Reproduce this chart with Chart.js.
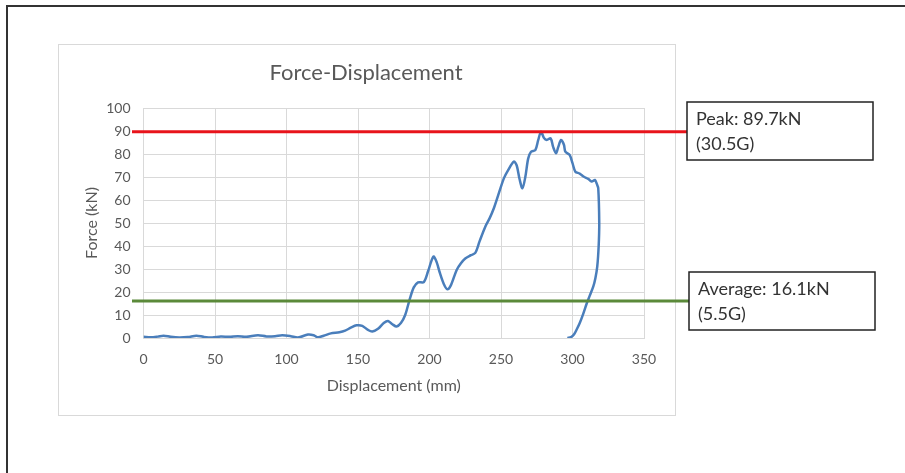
<!DOCTYPE html>
<html>
<head>
<meta charset="utf-8">
<script src="https://cdn.jsdelivr.net/npm/chart.js@4.4.1/dist/chart.umd.min.js"></script>
<style>
  body { margin: 0; background: #fff; }
  canvas { display: block; }
</style>
</head>
<body>
<canvas id="chart" width="905" height="473"></canvas>
<script>
// values (mm, kN)
const displacement = [
  0, 5, 10, 14, 19, 25, 31, 37, 42, 48, 54, 60, 66, 72, 80, 86, 92, 97, 103, 108,
  115, 119, 122, 126, 131, 137, 141, 145, 149, 153, 157, 160, 164, 168, 171, 174, 177, 180, 183, 186,
  189, 192, 196, 199, 202.7, 205, 207, 210, 212.5, 215, 219, 222, 225, 229, 232, 235, 239, 242, 245, 248,
  252, 255, 259, 261, 263, 265, 267, 269, 271, 274, 276, 278, 280, 282, 284.7, 286.5, 288.5, 290, 292, 294,
  295, 298, 300, 302, 305, 308, 311, 313.4, 315.7, 317, 318, 318.7, 318.3, 317.3, 316, 314.5, 312, 310, 307.5, 305,
  303, 301, 299, 296.4
];
const force = [
  0.6, 0.3, 0.6, 1.0, 0.5, 0.2, 0.4, 1.0, 0.5, 0.2, 0.6, 0.5, 0.8, 0.5, 1.2, 0.7, 0.8, 1.2, 0.8, 0.2,
  1.5, 1.2, 0.3, 1.0, 2.0, 2.5, 3.2, 4.5, 5.5, 5.3, 3.5, 2.8, 4.0, 6.5, 7.4, 6.0, 5.0, 6.5, 10, 16.5,
  22, 24.2, 24.3, 29, 35.4, 33, 28.8, 23.5, 21.2, 23, 29.6, 32.5, 34.6, 36, 37, 42, 48.4, 52, 56.4, 62,
  69.4, 73, 76.7, 75, 69, 65.1, 70, 78, 81, 81.7, 86, 89.7, 87, 86.1, 86.8, 83, 80.3, 83, 86.1, 84,
  81, 79.6, 76, 72.3, 71.5, 70.1, 69.2, 68, 68.7, 67, 65.1, 50, 40, 31, 26, 22.3, 18.3, 15.1, 10.5, 6.4,
  3.8, 1.5, 0.4, 0
];
const peakForce = 89.7;
const averageForce = 16.1;
const peakText = ["Peak: 89.7kN", "(30.5G)"];
const averageText = ["Average: 16.1kN", "(5.5G)"];

const points = displacement.map((d, i) => ({ x: d, y: force[i] }));

function drawMarker(c, y, color, boxX, boxY, lines) {
  c.strokeStyle = color;
  c.lineWidth = 3;
  c.beginPath();
  c.moveTo(132, y);
  c.lineTo(boxX, y);
  c.stroke();
  c.fillStyle = "#fff";
  c.fillRect(boxX, boxY, 186, 58);
  c.strokeStyle = "#222";
  c.lineWidth = 1.5;
  c.strokeRect(boxX, boxY, 186, 58);
  c.fillStyle = "#333";
  c.font = "18px Lato";
  c.textAlign = "left";
  c.textBaseline = "middle";
  c.fillText(lines[0], boxX + 9, boxY + 17);
  c.fillText(lines[1], boxX + 9, boxY + 42);
}

const decor = {
  id: "decor",
  beforeDraw(chart) {
    const c = chart.ctx;
    c.save();
    c.fillStyle = "#fff";
    c.fillRect(0, 0, chart.width, chart.height);
    c.strokeStyle = "#333";
    c.lineWidth = 2;
    c.beginPath();
    c.moveTo(7, chart.height);
    c.lineTo(7, 6);
    c.lineTo(chart.width, 6);
    c.stroke();
    c.strokeStyle = "#d9d9d9";
    c.lineWidth = 1;
    c.strokeRect(58.5, 44.5, 617, 371);
    c.fillStyle = "#595959";
    c.font = "22px Lato";
    c.textAlign = "center";
    c.textBaseline = "middle";
    c.fillText("Force-Displacement", 366, 73);
    c.restore();
  },
  afterDatasetsDraw(chart) {
    const c = chart.ctx;
    const y = chart.scales.y;
    c.save();
    drawMarker(c, y.getPixelForValue(peakForce), "#e8141b", 687, 102, peakText);
    drawMarker(c, y.getPixelForValue(averageForce), "#5b8a3a", 689, 272, averageText);
    c.restore();
  }
};

new Chart(document.getElementById("chart"), {
  type: "scatter",
  data: {
    datasets: [{
      label: "Force",
      data: points,
      showLine: true,
      borderColor: "#4a7ebb",
      borderWidth: 2.5,
      pointRadius: 0,
      tension: 0.3
    }]
  },
  options: {
    responsive: false,
    animation: false,
    layout: { padding: { left: 58.5, right: 261, top: 108, bottom: 75 } },
    plugins: { legend: { display: false }, tooltip: { enabled: false } },
    scales: {
      x: {
        type: "linear",
        min: 0,
        max: 350,
        afterFit: (s) => { s.height = 60; },
        ticks: { stepSize: 50, padding: 13, color: "#595959", font: { family: "Lato", size: 14 } },
        grid: { color: "#d9d9d9", drawTicks: false },
        border: { color: "#d9d9d9" },
        title: {
          display: true,
          text: "Displacement (mm)",
          color: "#595959",
          font: { family: "Lato", size: 16 },
          padding: { top: 0, bottom: 3 }
        }
      },
      y: {
        min: 0,
        max: 100,
        afterFit: (s) => { s.width = 85; },
        ticks: { stepSize: 10, padding: 13, color: "#595959", font: { family: "Lato", size: 14 } },
        grid: { color: "#d9d9d9", drawTicks: false },
        border: { display: false },
        title: {
          display: true,
          text: "Force (kN)",
          color: "#595959",
          font: { family: "Lato", size: 16 },
          padding: { top: 24, bottom: 0 }
        }
      }
    }
  },
  plugins: [decor]
});
</script>
</body>
</html>
